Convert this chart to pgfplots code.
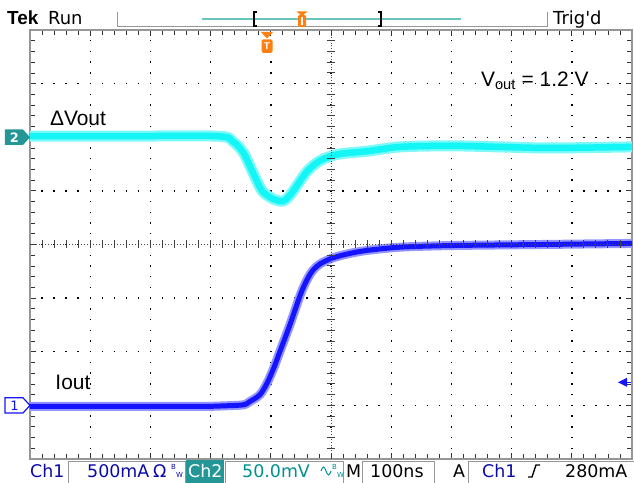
\documentclass[border=0pt]{standalone}
\usepackage{pgfplots}
\usepackage{pgfplotstable}
\pgfplotsset{compat=1.18}
\usepackage{fontspec}
\setmainfont{Liberation Sans}
\newfontfamily\tek{DejaVu Sans}
\definecolor{tealbox}{RGB}{36,150,150}
\definecolor{tealline}{RGB}{105,195,190}
\definecolor{tekorange}{RGB}{255,128,16}
\definecolor{chone}{RGB}{20,20,255}
\definecolor{chtwo}{RGB}{20,245,245}
\definecolor{txtblue}{RGB}{10,10,170}
\definecolor{txtteal}{RGB}{0,145,145}
\definecolor{framegray}{RGB}{150,150,150}

% Ch1: Iout (divisions)
\pgfplotstableread{
x y
-5.00 -3.02
-3.50 -3.02
-2.18 -3.02
-1.80 -3.01
-1.46 -2.99
-1.35 -2.93
-1.18 -2.80
-1.06 -2.58
-0.95 -2.30
-0.85 -2.00
-0.68 -1.49
-0.51 -0.94
-0.40 -0.66
-0.30 -0.48
-0.18 -0.36
0.03 -0.25
0.30 -0.17
0.60 -0.11
1.15 -0.05
1.98 -0.02
3.50 0.00
5.00 0.02
}\ioutdata

% Ch2: Delta Vout (divisions)
\pgfplotstableread{
x y
-5.00 2.02
-3.50 2.02
-1.89 2.02
-1.63 1.92
-1.46 1.72
-1.35 1.47
-1.23 1.18
-1.13 0.98
-0.96 0.85
-0.80 0.81
-0.68 0.92
-0.56 1.11
-0.40 1.36
-0.23 1.53
-0.07 1.62
0.15 1.69
0.60 1.74
1.15 1.82
1.98 1.84
2.81 1.82
3.64 1.80
5.00 1.82
}\dvoutdata

\begin{document}
\begin{tikzpicture}
\path[use as bounding box] (-30bp,-24bp) rectangle (604bp,459bp);
\begin{axis}[
  at={(0bp,0bp)}, anchor=south west, scale only axis,
  width=602bp, height=429bp,
  xmin=-5, xmax=5, ymin=-4, ymax=4,
  xtick={-5,...,5}, ytick={-4,...,4},
  minor x tick num=4, minor y tick num=4,
  xticklabels={}, yticklabels={},
  tick align=inside, tick pos=both,
  major tick length=6bp, minor tick length=5bp,
  every tick/.style={black!80, line width=0.8bp},
  axis line style={framegray, line width=2.5bp},
  xmajorgrids, ymajorgrids,
  x grid style={black, line width=1.4bp, dash pattern=on 1.4bp off 9.325bp, dash phase=0.7bp},
  y grid style={black, line width=1.4bp, dash pattern=on 1.4bp off 10.64bp, dash phase=0.7bp},
  clip=true,
]
\addplot[chtwo!55, line width=11bp, smooth, tension=0.5] table {\dvoutdata};
\addplot[chtwo, line width=6.5bp, smooth, tension=0.5] table {\dvoutdata};
\addplot[chone!45, line width=9bp, smooth, tension=0.5] table {\ioutdata};
\addplot[chone, line width=5bp, smooth, tension=0.5] table {\ioutdata};

\node[anchor=base west, inner sep=0pt, font=\fontsize{21}{24}\selectfont] at (axis cs:-4.67,2.21) {ΔVout};
\node[anchor=base west, inner sep=0pt, font=\fontsize{21}{24}\selectfont] at (axis cs:-4.58,-2.71) {Iout};
\node[anchor=base west, inner sep=0pt, font=\fontsize{21}{24}\selectfont] at (axis cs:2.49,2.94) {V\textsubscript{out} = 1.2 V};
\end{axis}

\begin{scope}[x=1bp,y=1bp]
% center cross
\draw[black!70, line width=0.8bp, dash pattern=on 1bp off 1.68bp] (301,0)--(301,429);
\draw[black!70, line width=0.8bp, dash pattern=on 1bp off 2bp] (0,214.5)--(602,214.5);
\foreach \k in {1,...,39} \draw[black!75,line width=0.9bp] (297,\k*10.725)--(305,\k*10.725);
\foreach \k in {1,...,49} \draw[black!75,line width=0.9bp] (\k*12.04,210.5)--(\k*12.04,218.5);

% channel markers
\fill[tealbox] (-25,314)--(-7,314)--(0,321.75)--(-7,329.5)--(-25,329.5)--cycle;
\node[white, font=\tek\bfseries\fontsize{13}{13}\selectfont] at (-15.5,321.75) {2};
\draw[chone, fill=white, line width=1.2bp] (-25,46)--(-7,46)--(0,53.6)--(-7,61.2)--(-25,61.2)--cycle;
\node[chone, font=\tek\fontsize{13}{13}\selectfont] at (-15.5,53.6) {1};

% trigger level arrow
\fill[chone] (588,76.7)--(597,81.2)--(597,72.2)--cycle;
\draw[chone,line width=1.5bp] (596,76.7)--(601,76.7);

% trigger position marker
\fill[tekorange] (231,427)--(243,427)--(237,420.5)--cycle;
\fill[tekorange, rounded corners=1.5bp] (231.5,406) rectangle (242.5,419.5);
\node[white, font=\bfseries\fontsize{10}{10}\selectfont] at (237,412.7) {T};

% top bar
\node[anchor=base west, inner sep=0pt, font=\bfseries\fontsize{19}{19}\selectfont] at (-23,434) {Tek};
\node[anchor=base west, inner sep=0pt, font=\tek\fontsize{18}{18}\selectfont] at (18,434) {Run};
\draw[framegray, line width=1bp] (87,447)--(87,432)--(517,432)--(517,447);
\draw[tealline, line width=1.5bp] (172,440)--(431,440);
\draw[black, line width=1.2bp] (227,447)--(224,447)--(224,433)--(227,433);
\draw[black, line width=1.2bp] (348,447)--(351,447)--(351,433)--(348,433);
\fill[tekorange] (266.5,447.5)--(277.5,447.5)--(272,443)--cycle;
\fill[tekorange, rounded corners=1.5bp] (268,432) rectangle (276,444);
\draw[white, line width=1.2bp] (272,434)--(272,442);
\node[anchor=base west, inner sep=0pt, font=\tek\fontsize{18}{18}\selectfont] at (523,434) {Trig'd};

% bottom bar
\draw[framegray, line width=1bp] (38,-24)--(38,-2)--(155,-2)--(155,-24);
\fill[tealbox] (156,-24) rectangle (194,-1.5);
\draw[framegray, line width=1bp] (195,-24)--(195,-2)--(313,-2)--(313,-24);
\draw[framegray, line width=1bp] (332,-24)--(332,-2)--(404,-2)--(404,-24);
\draw[framegray, line width=1bp] (438,-24)--(438,-2)--(604,-2);
\begin{scope}[every node/.style={anchor=base west, inner sep=0pt, font=\tek\fontsize{17.5}{17.5}\selectfont}]
\node[txtblue] at (0,-18) {Ch1};
\node[txtblue] at (57,-18) {500mA};
\node[txtblue] at (123,-18) {Ω};
\node[white] at (158,-18) {Ch2};
\node[txtteal] at (212,-18) {50.0mV};
\node at (316,-18) {M};
\node at (340,-18) {100ns};
\node at (423,-18) {A};
\node[txtblue] at (452,-18) {Ch1};
\node at (535,-18) {280mA};
\end{scope}
\node[txtblue, anchor=base west, inner sep=0pt, font=\tek\fontsize{7}{7}\selectfont] at (141,-10) {B};
\node[txtblue, anchor=base west, inner sep=0pt, font=\tek\fontsize{7}{7}\selectfont] at (146,-18) {W};
\node[txtteal, anchor=base west, inner sep=0pt, font=\tek\fontsize{7}{7}\selectfont] at (302,-10) {B};
\node[txtteal, anchor=base west, inner sep=0pt, font=\tek\fontsize{7}{7}\selectfont] at (307,-18) {W};
\draw[txtteal, line width=1bp] (291,-12) sin (293.5,-8) cos (296,-12) sin (298.5,-16) cos (301,-12);
\draw[black, line width=1.4bp] (498,-18)--(502,-18)--(506,-6)--(510,-6);
\end{scope}
\end{tikzpicture}
\end{document}
